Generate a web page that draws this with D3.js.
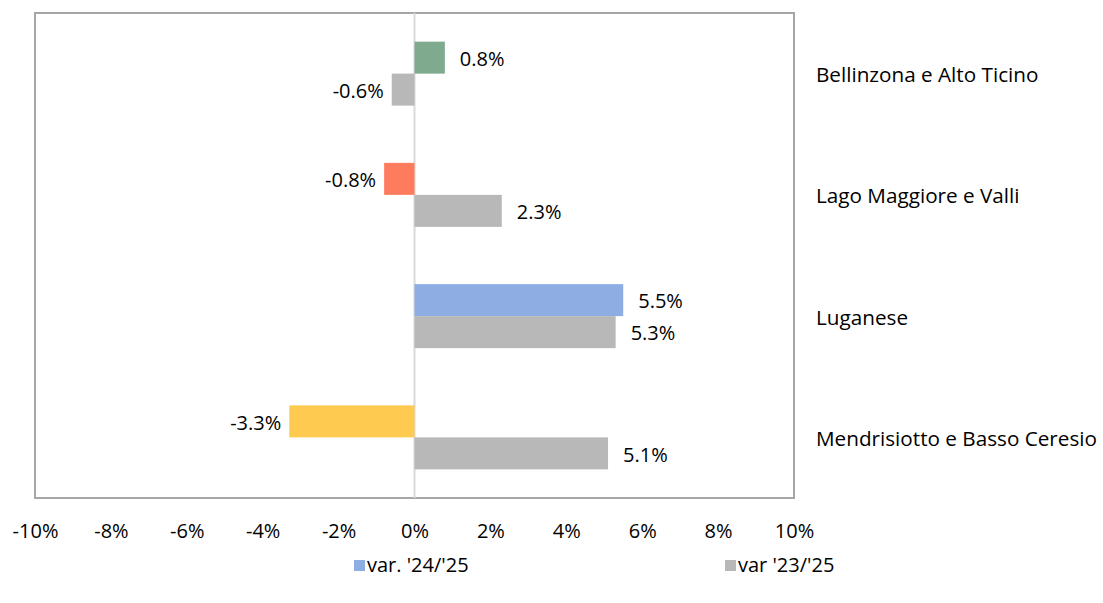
<!DOCTYPE html>
<html>
<head>
<meta charset="utf-8">
<script src="https://cdn.jsdelivr.net/npm/d3@7"></script>
<style>
  body { margin: 0; background: #fff; }
  text { font-family: "Open Sans", sans-serif; fill: #000; }
</style>
</head>
<body>
<svg class="mainSvg"></svg>
<script>
(function () {
  // ===========================================================================
  //     data area
  // ===========================================================================
  const regions = ['Bellinzona e Alto Ticino', 'Lago Maggiore e Valli', 'Luganese', 'Mendrisiotto e Basso Ceresio'];
  const var2425 = [0.8, -0.8, 5.5, -3.3];
  const var2325 = [-0.6, 2.3, 5.3, 5.1];
  const seriesNames = ["var. '24/'25", "var '23/'25"];
  const tickValues = [-10, -8, -6, -4, -2, 0, 2, 4, 6, 8, 10];

  const barColors = ['#7faa8e', '#ff7b5e', '#8eaee3', '#ffca50'];
  const greyColor = '#b7b8b7';
  const legendColors = ['#8eaee3', greyColor];

  const initWidth = 1103;
  const initHeight = 603;
  const plot = { left: 35, right: 794, top: 13, bottom: 498 };
  const fontSize = 20;

  // ===========================================================================
  //      procedure
  // ===========================================================================
  const svg = d3.select('.mainSvg')
    .attr('width', initWidth)
    .attr('height', initHeight);

  const x = d3.scaleLinear().domain([-10, 10]).range([plot.left, plot.right]);
  const y = d3.scaleBand().domain(regions).range([plot.top, plot.bottom]);
  const barH = 32;

  // plot box
  svg.append('rect')
    .attr('x', plot.left).attr('y', plot.top)
    .attr('width', plot.right - plot.left).attr('height', plot.bottom - plot.top)
    .attr('fill', 'none').attr('stroke', '#a6a6a6').attr('stroke-width', 2);

  // zero line
  svg.append('line')
    .attr('x1', x(0)).attr('x2', x(0))
    .attr('y1', plot.top).attr('y2', plot.bottom)
    .attr('stroke', '#d9d9d9').attr('stroke-width', 2);

  const series = [
    { values: var2425, offset: -barH, color: (i) => barColors[i] },
    { values: var2325, offset: 0, color: () => greyColor },
  ];

  series.forEach(function (s) {
    const g = svg.append('g');
    g.selectAll('rect')
      .data(s.values)
      .enter()
      .append('rect')
      .attr('x', d => x(Math.min(0, d)))
      .attr('y', (d, i) => y(regions[i]) + y.bandwidth() / 2 + s.offset)
      .attr('width', d => Math.abs(x(d) - x(0)))
      .attr('height', barH)
      .attr('fill', (d, i) => s.color(i));

    g.selectAll('text')
      .data(s.values)
      .enter()
      .append('text')
      .attr('x', d => d >= 0 ? x(d) + 15 : x(d) - 8)
      .attr('y', (d, i) => y(regions[i]) + y.bandwidth() / 2 + s.offset + barH / 2 + 3)
      .attr('text-anchor', d => d >= 0 ? 'start' : 'end')
      .attr('dominant-baseline', 'middle')
      .attr('font-size', fontSize)
      .text(d => d.toFixed(1) + '%');
  });

  // category labels on the right
  svg.append('g')
    .selectAll('text')
    .data(regions)
    .enter()
    .append('text')
    .attr('x', 816)
    .attr('y', d => y(d) + y.bandwidth() / 2 + 3)
    .attr('dominant-baseline', 'middle')
    .attr('font-size', 20.7)
    .text(d => d);

  // x axis labels
  const axis = d3.axisBottom(x)
    .tickValues(tickValues)
    .tickSize(0)
    .tickPadding(0)
    .tickFormat(d => d + '%');
  const ax = svg.append('g')
    .attr('transform', `translate(0, ${plot.bottom + 26})`)
    .call(axis);
  ax.select('.domain').remove();
  ax.selectAll('text')
    .attr('font-size', fontSize)
    .attr('font-family', '"Open Sans", sans-serif')
    .attr('fill', '#000');

  // legend
  const legendX = [354, 725];
  seriesNames.forEach(function (name, i) {
    svg.append('rect')
      .attr('x', legendX[i]).attr('y', 560)
      .attr('width', 11).attr('height', 11)
      .attr('fill', legendColors[i]);
    svg.append('text')
      .attr('x', legendX[i] + 13).attr('y', 567)
      .attr('dominant-baseline', 'middle')
      .attr('font-size', fontSize)
      .text(name);
  });
})();
</script>
</body>
</html>
